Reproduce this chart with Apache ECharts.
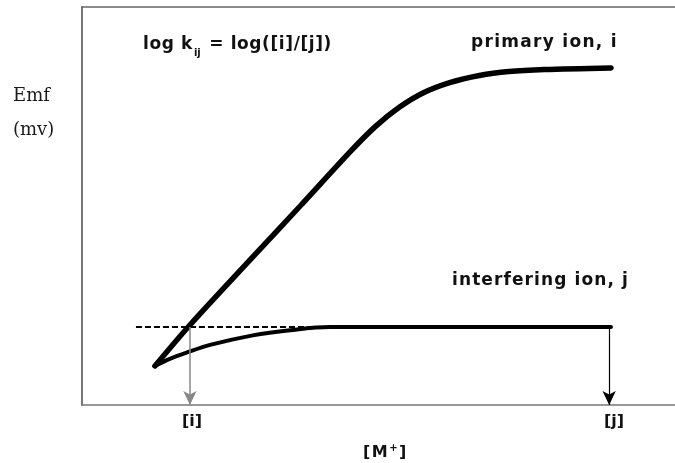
<!DOCTYPE html>
<html><head><meta charset="utf-8">
<script src="https://cdn.jsdelivr.net/npm/echarts@6/dist/echarts.min.js"></script>
<style>html,body{margin:0;padding:0;background:#fff}#c{width:675px;height:463px}</style>
</head><body><div id="c"></div>
<script>
// data (x: [M+] scale 0-100, y: Emf scale 0-100)
const primaryX = [12.3, 18.2, 28.3, 36.8, 45.2, 49.5, 53.5, 57.5, 62.0, 67.0, 72.0, 78.0, 89.2];
const primaryY = [9.8, 20.1, 36.4, 50.0, 63.6, 70.0, 74.8, 78.4, 81.0, 82.8, 83.8, 84.3, 84.7];
const interfX = [12.3, 14.8, 17.7, 21.6, 28.8, 35.1, 41.8, 89.2];
const interfY = [9.8, 11.6, 13.2, 15.1, 17.5, 18.8, 19.6, 19.6];
const dashX = [9.1, 41.8];
const dashY = [19.6, 19.6];
const arrowI = [18.2, 19.6];
const arrowJ = [88.9, 19.6];

const zip = (a, b) => a.map((v, i) => [v, b[i]]);
const SANS = '"DejaVu Sans", Verdana, sans-serif';
const SERIF = '"DejaVu Serif", "Liberation Serif", serif';
const bold = (size, extra) => Object.assign({fontFamily: SANS, fontWeight: 'bold', fontSize: size, fill: '#111'}, extra || {});
const spaced = (str, name) => str.split('').map(ch => '{' + name + '|' + ch + '}').join('');

const chart = echarts.init(document.getElementById('c'), null, {renderer: 'canvas'});
chart.setOption({
  animation: false,
  grid: {left: 82, top: 7, right: 0, bottom: 58},
  xAxis: [
    {type: 'value', min: 0, max: 100, axisLine: {show: true, lineStyle: {color: '#777', width: 1.5}},
     axisTick: {show: false}, axisLabel: {show: false}, splitLine: {show: false}},
    {type: 'value', position: 'top', min: 0, max: 100, axisLine: {show: true, lineStyle: {color: '#666', width: 1.5}},
     axisTick: {show: false}, axisLabel: {show: false}, splitLine: {show: false}}
  ],
  yAxis: {type: 'value', min: 0, max: 100, axisLine: {show: true, lineStyle: {color: '#777', width: 2}},
    axisTick: {show: false}, axisLabel: {show: false}, splitLine: {show: false}},
  series: [
    {type: 'line', data: zip(primaryX, primaryY), smooth: 0.3, symbol: 'none',
     lineStyle: {color: '#000', width: 5.5, cap: 'round'}},
    {type: 'line', data: zip(interfX, interfY), smooth: 0.35, symbol: 'none',
     lineStyle: {color: '#000', width: 4, cap: 'round'}},
    {type: 'line', data: zip(dashX, dashY), symbol: 'none',
     lineStyle: {color: '#000', width: 2, type: [6, 3]}},
    {type: 'line', data: [], symbol: 'none',
     markLine: {silent: true, symbol: ['none', 'arrow'], symbolSize: [10, 14], label: {show: false},
       data: [
         [{coord: arrowI, lineStyle: {color: '#888', width: 1.5, type: 'solid'}}, {coord: [arrowI[0], 0]}],
         [{coord: arrowJ, lineStyle: {color: '#000', width: 1.2, type: 'solid'}}, {coord: [arrowJ[0], 0]}]
       ]}}
  ],
  graphic: [
    {type: 'text', left: 143, top: 36, style: {
      text: spaced('log k', 'a') + '{s|ij}' + spaced(' = log([i]/[j])', 'a'),
      rich: {a: bold(17, {padding: [0, 0.6, 0, 0]}), s: bold(10, {padding: [17, 2, 0, 1]})}}},
    {type: 'text', left: 471, top: 34, style: {
      text: spaced('primary ion, i', 'c'), rich: {c: bold(17, {padding: [0, 1.3, 0, 0]})}}},
    {type: 'text', left: 452, top: 272, style: {
      text: spaced('interfering ion, j', 'c'), rich: {c: bold(17, {padding: [0, 1.1, 0, 0]})}}},
    {type: 'text', left: 182, top: 414, style: {text: '[i]', fontFamily: SANS, fontWeight: 'bold', fontSize: 16, fill: '#111'}},
    {type: 'text', left: 604, top: 414, style: {text: '[j]', fontFamily: SANS, fontWeight: 'bold', fontSize: 16, fill: '#111'}},
    {type: 'text', left: 363, top: 443, style: {
      text: '{a|[}{a|M}{s|+}{a|]}',
      rich: {a: bold(16, {padding: [0, 1.5, 0, 0]}), s: bold(10, {padding: [0, 1.5, 10, 0]})}}},
    {type: 'text', left: 13, top: 87, style: {text: 'Emf', fontFamily: SERIF, fontSize: 18, fill: '#1a1a1a'}},
    {type: 'text', left: 13, top: 121, style: {text: '(mv)', fontFamily: SERIF, fontSize: 18, fill: '#1a1a1a'}}
  ]
});
</script></body></html>
